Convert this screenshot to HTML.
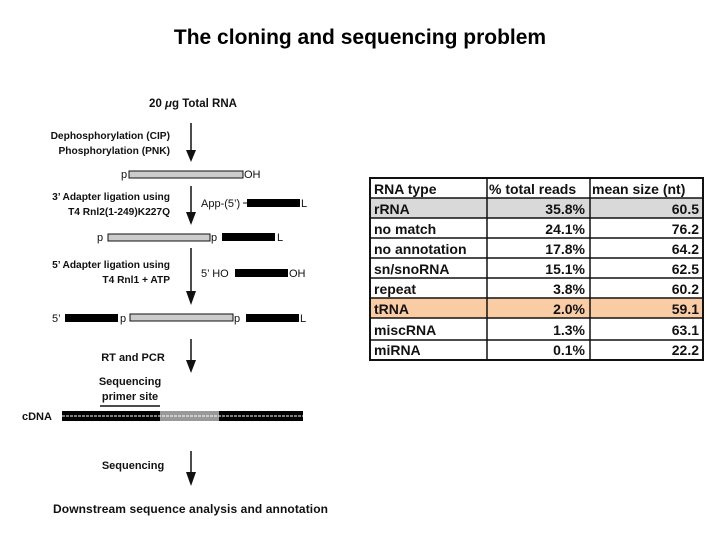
<!DOCTYPE html>
<html><head><meta charset="utf-8"><style>
body{margin:0;background:#fff;width:720px;height:540px;overflow:hidden;font-family:"Liberation Sans",sans-serif}
svg text{font-family:"Liberation Sans",sans-serif}
</style></head><body>
<svg width="720" height="540" viewBox="0 0 720 540">
<text x="360" y="44" text-anchor="middle" font-size="21" font-weight="bold">The cloning and sequencing problem</text>
<g font-size="11" font-weight="bold" fill="#111">
<text x="193" y="107" text-anchor="middle" font-size="11.5">20 <tspan font-style="italic">μ</tspan>g Total RNA</text>
<g><line x1="191" y1="123" x2="191" y2="152" stroke="#111" stroke-width="1.5"/><polygon points="186,150 196,150 191,162" fill="#111"/></g>
<g font-size="10.2">
<text x="170" y="139" text-anchor="end">Dephosphorylation (CIP)</text>
<text x="170" y="154" text-anchor="end">Phosphorylation (PNK)</text>
<text x="170" y="200" text-anchor="end">3’ Adapter ligation using</text>
<text x="170" y="215" text-anchor="end">T4 Rnl2(1-249)K227Q</text>
<text x="170" y="268" text-anchor="end">5’ Adapter ligation using</text>
<text x="170" y="283" text-anchor="end">T4 Rnl1 + ATP</text>
</g>
<g font-weight="normal">
<text x="121" y="178">p</text>
<rect x="129" y="171" width="114" height="7" fill="#ccc" stroke="#111"/>
<text x="244" y="178">OH</text>
</g>
<g><line x1="191" y1="186" x2="191" y2="214" stroke="#111" stroke-width="1.5"/><polygon points="186,212 196,212 191,225" fill="#111"/></g>
<g font-weight="normal">
<text x="201" y="207">App-(5’)</text>
<line x1="243" y1="203" x2="247" y2="203" stroke="#111"/>
<rect x="247" y="199" width="53" height="8" fill="#000"/>
<text x="301" y="207">L</text>
<text x="97" y="241">p</text>
<rect x="108" y="234" width="102" height="7" fill="#ccc" stroke="#111"/>
<text x="211" y="241">p</text>
<rect x="222" y="233" width="53" height="8" fill="#000"/>
<text x="277" y="241">L</text>
</g>
<g><line x1="191" y1="248" x2="191" y2="293" stroke="#111" stroke-width="1.5"/><polygon points="186,291 196,291 191,305" fill="#111"/></g>
<g font-weight="normal">
<text x="201" y="277">5’ HO</text>
<rect x="235" y="269" width="53" height="8" fill="#000"/>
<text x="289" y="277">OH</text>
<text x="52" y="322">5’</text>
<rect x="65" y="314" width="53" height="8" fill="#000"/>
<text x="120" y="322">p</text>
<rect x="130" y="314" width="103" height="7" fill="#ccc" stroke="#111"/>
<text x="234" y="322">p</text>
<rect x="246" y="314" width="53" height="8" fill="#000"/>
<text x="300" y="322">L</text>
</g>
<text x="133" y="361" text-anchor="middle">RT and PCR</text>
<g><line x1="191" y1="339" x2="191" y2="362" stroke="#111" stroke-width="1.5"/><polygon points="186,360 196,360 191,373" fill="#111"/></g>
<text x="130" y="385" text-anchor="middle">Sequencing</text>
<text x="130" y="400" text-anchor="middle">primer site</text>
<line x1="100" y1="406" x2="160" y2="406" stroke="#111" stroke-width="1.5"/>
<text x="22" y="420">cDNA</text>
<g>
<rect x="62" y="411" width="241" height="10" fill="#000"/>
<rect x="160" y="411" width="59" height="10" fill="#999"/>
<line x1="62" y1="416" x2="303" y2="416" stroke="#fff" stroke-width="1" stroke-dasharray="3,1"/>
</g>
<text x="133" y="469" text-anchor="middle">Sequencing</text>
<g><line x1="191" y1="451" x2="191" y2="474" stroke="#111" stroke-width="1.5"/><polygon points="186,472 196,472 191,486" fill="#111"/></g>
<text x="53" y="513" font-size="12" textLength="275">Downstream sequence analysis and annotation</text>
</g>
<g font-size="14" font-weight="bold" fill="#111">
<rect x="370" y="198" width="333" height="20" fill="#d9d9d9"/>
<rect x="370" y="298" width="333" height="20" fill="#f9cca4"/>
<rect x="370" y="178" width="333" height="182" fill="none" stroke="#111" stroke-width="2"/>
<g stroke="#111" stroke-width="1.5">
<line x1="487" y1="178" x2="487" y2="360"/><line x1="590" y1="178" x2="590" y2="360"/>
<line x1="370" y1="198" x2="703" y2="198"/><line x1="370" y1="218" x2="703" y2="218"/>
<line x1="370" y1="238" x2="703" y2="238"/><line x1="370" y1="258" x2="703" y2="258"/>
<line x1="370" y1="278" x2="703" y2="278"/><line x1="370" y1="298" x2="703" y2="298"/>
<line x1="370" y1="318" x2="703" y2="318"/><line x1="370" y1="340" x2="703" y2="340"/>
</g>
<text x="374" y="194">RNA type</text><text x="489" y="194">% total reads</text><text x="592" y="194">mean size (nt)</text>
<text x="374" y="214">rRNA</text><text x="585" y="214" text-anchor="end">35.8%</text><text x="699" y="214" text-anchor="end">60.5</text>
<text x="374" y="234">no match</text><text x="585" y="234" text-anchor="end">24.1%</text><text x="699" y="234" text-anchor="end">76.2</text>
<text x="374" y="254">no annotation</text><text x="585" y="254" text-anchor="end">17.8%</text><text x="699" y="254" text-anchor="end">64.2</text>
<text x="374" y="274">sn/snoRNA</text><text x="585" y="274" text-anchor="end">15.1%</text><text x="699" y="274" text-anchor="end">62.5</text>
<text x="374" y="294">repeat</text><text x="585" y="294" text-anchor="end">3.8%</text><text x="699" y="294" text-anchor="end">60.2</text>
<text x="374" y="314">tRNA</text><text x="585" y="314" text-anchor="end">2.0%</text><text x="699" y="314" text-anchor="end">59.1</text>
<text x="374" y="335">miscRNA</text><text x="585" y="335" text-anchor="end">1.3%</text><text x="699" y="335" text-anchor="end">63.1</text>
<text x="374" y="355">miRNA</text><text x="585" y="355" text-anchor="end">0.1%</text><text x="699" y="355" text-anchor="end">22.2</text>
</g>
</svg>
</body></html>
